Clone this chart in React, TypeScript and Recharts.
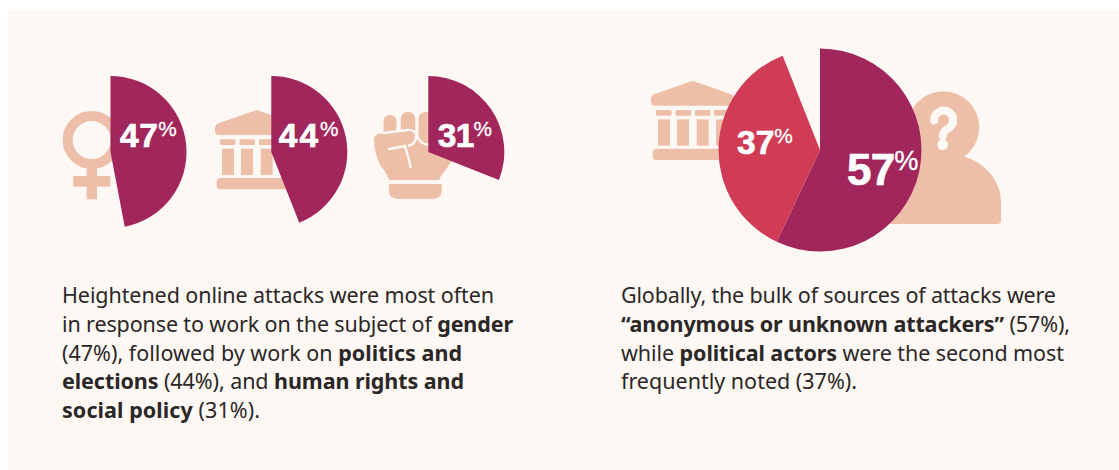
import { Pie, PieChart } from 'recharts'

const topicNames = ['Gender', 'Politics and elections', 'Human rights and social policy']
const topicValues = [47, 44, 31]

const sourceNames = ['Anonymous or unknown attackers', 'Political actors', 'Not attributed']
const sourceValues = [57, 37, 6]

const leftCopy = [
  [['Heightened online attacks were most often', false]],
  [['in response to work on the subject of ', false], ['gender', true]],
  [['(47%), followed by work on ', false], ['politics and', true]],
  [['elections', true], [' (44%), and ', false], ['human rights and', true]],
  [['social policy', true], [' (31%).', false]],
] as [string, boolean][][]
const leftWidths = [432, 451, 400, 402, 198]

const rightCopy = [
  [['Globally, the bulk of sources of attacks were', false]],
  [['“anonymous or unknown attackers”', true], [' (57%),', false]],
  [['while ', false], ['political actors', true], [' were the second most', false]],
  [['frequently noted (37%).', false]],
] as [string, boolean][][]
const rightWidths = [435, 449, 443, 236]

const PLUM = '#A1265C'
const ROSE = '#D03B55'
const ICON = '#EEBFA8'
const PANEL = '#FEF8F4'
const INK = '#2B2727'
const WIDTH = 1119
const HEIGHT = 470

type LabelPos = { dx: number; dy: number; size: number; spacing: number }

// label is placed relative to the pie centre, big number with a raised percent sign
function percentLabel(cx: number, cy: number, positions: (LabelPos | null)[]) {
  return (props: any) => {
    const pos = positions[props.index]
    if (!pos) return null
    return (
      <text
        key={props.index}
        x={cx + pos.dx}
        y={cy + pos.dy}
        fill="#fff"
        stroke="#fff"
        strokeWidth={0.7}
        fontFamily="'Liberation Sans', Arial, sans-serif"
        fontWeight={700}
        fontSize={pos.size}
        letterSpacing={pos.spacing}
        textAnchor="start"
      >
        <tspan>{props.value}</tspan>
        <tspan fontSize={pos.size * 0.62} fontWeight={400} strokeWidth={0.3} dy={-pos.size * 0.33}>
          %
        </tspan>
      </text>
    )
  }
}

function Bank({ x, y }: { x: number; y: number }) {
  return (
    <g transform={`translate(${x} ${y})`} fill={ICON}>
      <path d="M41.7 0 L80 13.5 Q83 15 83 18 V21 Q83 25 79 25 H4 Q0 25 0 21 V18 Q0 15 3 13.5 Z" />
      {[5, 24.5, 44, 63].map((c) => (
        <rect key={c} x={c} y={29.3} width={15.5} height={5.7} rx={1} />
      ))}
      {[7, 26, 45.7, 65].map((c) => (
        <rect key={c} x={c} y={38.7} width={12} height={26.3} />
      ))}
      <rect x={1.7} y={68} width={80} height={11.3} rx={3.5} />
    </g>
  )
}

function Venus() {
  return (
    <g>
      <circle cx={91.7} cy={140} r={24} fill="none" stroke={ICON} strokeWidth={10} />
      <rect x={86.7} y={164} width={10.3} height={35.3} fill={ICON} />
      <rect x={73.3} y={176} width={37} height={10.7} fill={ICON} />
    </g>
  )
}

function Fist() {
  return (
    <g>
      <g fill={ICON}>
        <rect x={383.5} y={115} width={13} height={24} rx={6} />
        <rect x={400.7} y={112} width={14.6} height={28} rx={7} />
        <rect x={418.5} y={112} width={15} height={34} rx={7} />
        <path d="M374 139 Q374 136 378 134 L408 130 Q420 129 424 136 L450 150 L452 160 Q448 167 444 172 Q440 177 439 180 H389 Q388 175 380 165 Q374 152 374 139 Z" />
        <path d="M389 184 H441.7 V191 Q441.7 199 431 199 H399 Q389 199 389 191 Z" />
      </g>
      <g fill="none" stroke={PANEL} strokeWidth={2.4} strokeLinecap="round">
        <path d="M389 149 L405 146 L409 160 L410.5 167" />
        <path d="M383.5 133 L407 130 Q417 129 416 138 Q415 144 409 145.5" />
        <path d="M417 126 V134 Q418 144 430 145" />
      </g>
    </g>
  )
}

function Asker() {
  return (
    <g>
      <circle cx={943.3} cy={127.3} r={36} fill={ICON} />
      <path
        d="M963 156 C985 163 1001 180 1001 203 V220 Q1001 224 997 224 H860 V156 Z"
        fill={ICON}
      />
      <path
        d="M934.2 120.4 A9.5 9.5 0 1 1 949 128 Q943 131 942.7 136"
        fill="none"
        stroke={PANEL}
        strokeWidth={8}
        strokeLinecap="round"
      />
      <circle cx={942.7} cy={144.6} r={5.4} fill={PANEL} />
    </g>
  )
}

function CopyBlock({
  x,
  lines,
  widths,
}: {
  x: number
  lines: [string, boolean][][]
  widths: number[]
}) {
  return (
    <g fontFamily="'Noto Sans', sans-serif" fontSize={21.5} fill={INK}>
      {lines.map((line, i) => (
        <text
          key={i}
          x={x}
          y={303 + i * 28.75}
          textLength={widths[i]}
          lengthAdjust="spacing"
          xmlSpace="preserve"
        >
          {line.map(([part, bold], j) => (
            <tspan key={j} fontWeight={bold ? 700 : 400}>
              {part}
            </tspan>
          ))}
        </text>
      ))}
    </g>
  )
}

const topicPies = topicNames.map((name, i) => ({
  name,
  value: topicValues[i],
  cx: [110.5, 271.3, 428.3][i],
  label: [
    { dx: 9.5, dy: -5, size: 33.5, spacing: 0.5 },
    { dx: 7.5, dy: -5, size: 33.5, spacing: 2 },
    { dx: 9.5, dy: -5, size: 33.5, spacing: -0.8 },
  ][i],
}))

const sourceData = sourceNames.map((name, i) => ({
  name,
  value: sourceValues[i],
  fill: [PLUM, ROSE, 'transparent'][i],
}))

export default function App() {
  return (
    <div
      style={{
        position: 'absolute',
        left: 0,
        top: 0,
        width: WIDTH,
        height: HEIGHT,
        background: '#fff',
        overflow: 'hidden',
      }}
    >
      <svg width={WIDTH} height={HEIGHT} style={{ position: 'absolute', left: 0, top: 0 }}>
        <rect x={8} y={10} width={WIDTH - 8} height={HEIGHT - 10} fill={PANEL} />
        <Venus />
        <Bank x={215} y={110} />
        <Fist />
        <Bank x={651} y={80.7} />
        <Asker />
        <CopyBlock x={62} lines={leftCopy} widths={leftWidths} />
        <CopyBlock x={621} lines={rightCopy} widths={rightWidths} />
      </svg>
      <div style={{ position: 'absolute', left: 0, top: 0 }}>
        <PieChart width={WIDTH} height={HEIGHT} margin={{ top: 0, right: 0, bottom: 0, left: 0 }}>
          {topicPies.map((p) => (
            <Pie
              key={p.name}
              data={[
                { name: p.name, value: p.value, fill: PLUM },
                { name: 'Other', value: 100 - p.value, fill: 'transparent' },
              ]}
              dataKey="value"
              cx={p.cx}
              cy={152}
              outerRadius={76}
              startAngle={90}
              endAngle={-270}
              stroke="none"
              labelLine={false}
              label={percentLabel(p.cx, 152, [p.label, null])}
              isAnimationActive={false}
            />
          ))}
          <Pie
            data={sourceData}
            dataKey="value"
            cx={820}
            cy={150}
            outerRadius={101.5}
            startAngle={90}
            endAngle={-270}
            stroke="none"
            labelLine={false}
            label={percentLabel(820, 150, [
              { dx: 27, dy: 35, size: 44, spacing: -0.8 },
              { dx: -83, dy: 4, size: 33.5, spacing: 0 },
              null,
            ])}
            isAnimationActive={false}
          />
        </PieChart>
      </div>
    </div>
  )
}
